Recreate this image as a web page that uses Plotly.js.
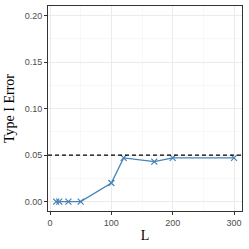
<!DOCTYPE html>
<html><head><meta charset="utf-8">
<script src="https://cdn.plot.ly/plotly-3.0.1.min.js"></script>
<style>html,body{margin:0;padding:0;background:#fff}</style>
</head><body><div id="chart" style="width:249px;height:249px"></div>
<script>
const L = [10, 15, 30, 50, 100, 120, 170, 200, 300];
const typeIError = [0, 0, 0, 0, 0.02, 0.047, 0.043, 0.047, 0.047];
const alpha = 0.05;
const xTicks = [0, 100, 200, 300];
const yTicks = [0.00, 0.05, 0.10, 0.15, 0.20];
const yTickLabels = ["0.00", "0.05", "0.10", "0.15", "0.20"];

const tickFont = {family: "Liberation Sans, Arial, sans-serif", size: 9, color: "#4D4D4D"};
const titleFont = {family: "Liberation Serif, Times New Roman, serif", size: 14, color: "#000"};

Plotly.newPlot("chart", [{
  x: L, y: typeIError, type: "scatter", mode: "lines+markers",
  line: {color: "#4682B4", width: 1.3},
  marker: {symbol: "x-thin-open", size: 6, color: "#4682B4", line: {color: "#4682B4", width: 1.2}},
  hoverinfo: "skip"
}], {
  width: 249, height: 249,
  margin: {l: 48, r: 7, t: 6, b: 38},
  paper_bgcolor: "#fff", plot_bgcolor: "#fff",
  showlegend: false,
  xaxis: {
    range: [-3.3, 313], tickvals: xTicks, ticktext: xTicks.map(String),
    showgrid: true, gridcolor: "#EBEBEB", gridwidth: 1,
    minor: {tickvals: [50, 150, 250], showgrid: true, gridcolor: "#F4F4F4", gridwidth: 0.6, ticks: ""},
    zeroline: false, showline: true, mirror: true, linecolor: "#333333", linewidth: 1,
    ticks: "outside", ticklen: 3, tickcolor: "#333333", tickwidth: 1,
    tickfont: tickFont,
    title: {text: "L", font: titleFont, standoff: 3}
  },
  yaxis: {
    range: [-0.0101, 0.2102], tickvals: yTicks, ticktext: yTickLabels,
    showgrid: true, gridcolor: "#EBEBEB", gridwidth: 1,
    minor: {tickvals: [0.025, 0.075, 0.125, 0.175], showgrid: true, gridcolor: "#F4F4F4", gridwidth: 0.6, ticks: ""},
    zeroline: false, showline: true, mirror: true, linecolor: "#333333", linewidth: 1,
    ticks: "outside", ticklen: 3, tickcolor: "#333333", tickwidth: 1,
    tickfont: tickFont,
    title: {text: "Type I Error", font: titleFont, standoff: 6}
  },
  shapes: [{type: "line", xref: "paper", x0: 0, x1: 1, yref: "y", y0: alpha, y1: alpha,
    line: {color: "#000", width: 1.2, dash: "4px,3px"}, layer: "above"}]
}, {staticPlot: true, displayModeBar: false});
</script></body></html>
